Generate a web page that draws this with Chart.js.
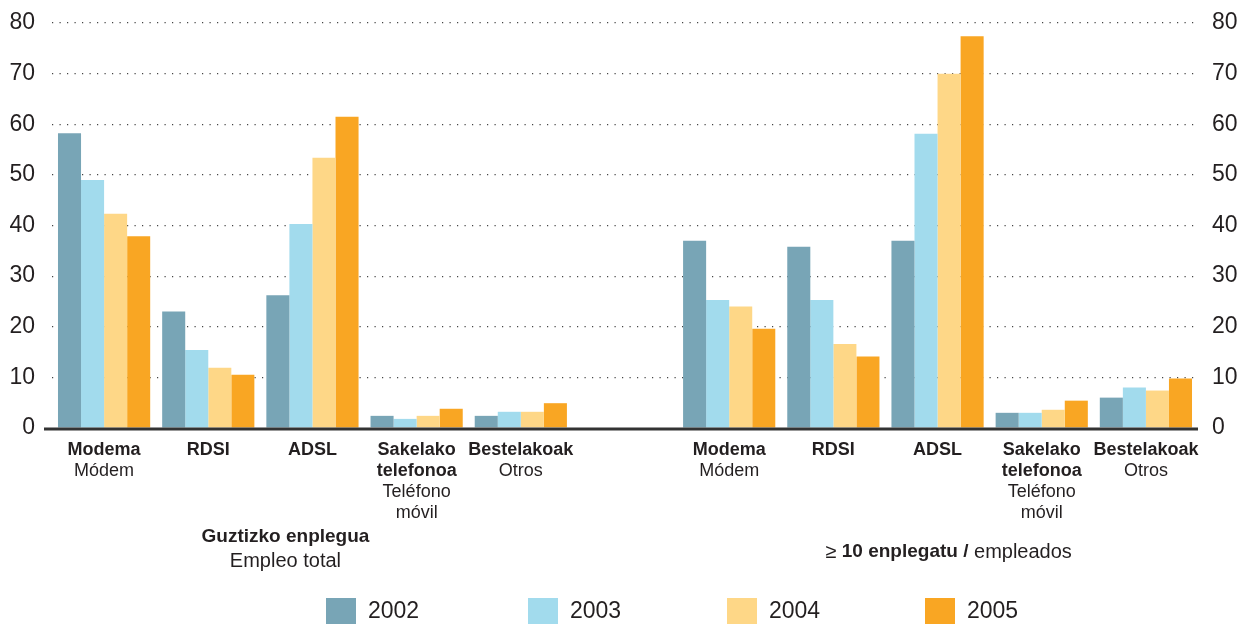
<!DOCTYPE html>
<html lang="eu">
<head>
  <meta charset="UTF-8">
  <title>Internet konexio mota</title>
  <script src="https://cdn.jsdelivr.net/npm/chart.js"></script>
  <style>
    body {
      margin: 0;
      background: #fff;
    }
    .wrap {
      width: 1256px;
      height: 624px;
      position: relative;
    }
  </style>
</head>
<body>
  <div class="wrap">
    <canvas id="chart" width="1256" height="624"></canvas>
  </div>

  <script>
    // categories: 5 for total employment, an empty slot, 5 for >= 10 employees
    const categories = ['Modema', 'RDSI', 'ADSL', 'Sakelako telefonoa', 'Bestelakoak', '',
                        'Modema', 'RDSI', 'ADSL', 'Sakelako telefonoa', 'Bestelakoak'];
    const catBold = [['Modema'], ['RDSI'], ['ADSL'], ['Sakelako', 'telefonoa'], ['Bestelakoak'], [],
                     ['Modema'], ['RDSI'], ['ADSL'], ['Sakelako', 'telefonoa'], ['Bestelakoak']];
    const catPlain = [['Módem'], [], [], ['Teléfono', 'móvil'], ['Otros'], [],
                      ['Módem'], [], [], ['Teléfono', 'móvil'], ['Otros']];

    const years = ['2002', '2003', '2004', '2005'];
    const v2002 = [58.2, 23.0, 26.2, 2.4, 2.4, null, 37.0, 35.8, 37.0, 3.0, 6.0];
    const v2003 = [49.0, 15.4, 40.3, 1.8, 3.2, null, 25.3, 25.3, 58.1, 3.0, 8.0];
    const v2004 = [42.3, 11.9, 53.4, 2.4, 3.2, null, 24.0, 16.6, 70.0, 3.6, 7.4];
    const v2005 = [37.9, 10.5, 61.5, 3.8, 4.9, null, 19.6, 14.1, 77.4, 5.4, 9.8];

    const yTicks = [0, 10, 20, 30, 40, 50, 60, 70, 80];

    const colors = ['#78a5b6', '#a2dbed', '#fed787', '#f9a623'];
    const textColor = '#231f20';
    const fam = "'Liberation Sans', Arial, sans-serif";

    // the numbers in the original use a narrow face; use it if it is there
    function hasFont(name) {
      const c = document.createElement('canvas').getContext('2d');
      c.font = '40px monospace';
      const a = c.measureText('mmmmiiiiWW').width;
      c.font = '40px "' + name + '", monospace';
      return c.measureText('mmmmiiiiWW').width !== a;
    }
    const narrow = hasFont('Liberation Sans Narrow');
    const numFam = narrow ? "'Liberation Sans Narrow', sans-serif" : fam;
    const numSize = narrow ? 26 : 23;

    // baseline, category labels, group titles and legend
    const extras = {
      id: 'extras',
      afterDraw(chart) {
        const { ctx, chartArea, scales } = chart;
        const x = scales.x;
        ctx.save();

        // zero line
        ctx.strokeStyle = '#333';
        ctx.lineWidth = 3;
        ctx.beginPath();
        ctx.moveTo(chartArea.left - 8, chartArea.bottom + 1);
        ctx.lineTo(chartArea.right, chartArea.bottom + 1);
        ctx.stroke();

        ctx.fillStyle = textColor;
        ctx.textAlign = 'center';
        ctx.textBaseline = 'middle';

        categories.forEach((c, i) => {
          const cx = x.getPixelForValue(i);
          let y = 450;
          ctx.font = 'bold 18px ' + fam;
          catBold[i].forEach(t => { ctx.fillText(t, cx, y); y += 21; });
          ctx.font = '18px ' + fam;
          catPlain[i].forEach(t => { ctx.fillText(t, cx, y); y += 21.5; });
        });

        // group titles
        const lx = x.getPixelForValue(2) - 27;
        ctx.font = 'bold 19px ' + fam;
        ctx.fillText('Guztizko enplegua', lx, 537);
        ctx.font = '20px ' + fam;
        ctx.fillText('Empleo total', lx, 561);

        const rx = x.getPixelForValue(8) + 11;
        const parts = [['≥ ', '20px '], ['10 enplegatu /', 'bold 19px '], [' empleados', '20px ']];
        let total = 0;
        parts.forEach(p => { ctx.font = p[1] + fam; total += ctx.measureText(p[0]).width; });
        let px = rx - total / 2;
        ctx.textAlign = 'left';
        parts.forEach(p => {
          ctx.font = p[1] + fam;
          ctx.fillText(p[0], px, 552);
          px += ctx.measureText(p[0]).width;
        });

        // legend
        const legendX = [326, 528, 727, 925];
        ctx.font = numSize + 'px ' + numFam;
        chart.data.datasets.forEach((ds, i) => {
          ctx.fillStyle = ds.backgroundColor;
          ctx.fillRect(legendX[i], 598, 30, 30);
          ctx.fillStyle = textColor;
          ctx.fillText(ds.label, legendX[i] + 42, 612);
        });

        ctx.restore();
      }
    };

    const yAxis = (pos, showGrid) => ({
      position: pos,
      min: 0,
      max: 80,
      afterBuildTicks: s => { s.ticks = yTicks.map(v => ({ value: v })); },
      afterFit: s => {
        s.width = pos === 'left' ? 52 : 58;
        s.paddingTop = 0;
        s.paddingBottom = 0;
      },
      grid: {
        display: showGrid,
        drawTicks: false,
        color: c => c.tick && c.tick.value === 0 ? 'rgba(0,0,0,0)' : '#444',
        lineWidth: 1.2
      },
      border: { display: false, dash: [1.2, 6.3] },
      ticks: {
        padding: pos === 'left' ? 17 : 14,
        color: textColor,
        font: { family: numFam, size: numSize }
      }
    });

    new Chart(document.getElementById('chart'), {
      type: 'bar',
      data: {
        labels: categories,
        datasets: [v2002, v2003, v2004, v2005].map((d, i) => ({
          label: years[i],
          data: d,
          backgroundColor: colors[i],
          borderWidth: 0,
          barPercentage: 1,
          categoryPercentage: 0.885,
          yAxisID: 'y'
        }))
      },
      options: {
        responsive: false,
        animation: false,
        layout: { padding: { top: 23, bottom: 0, left: 0, right: 0 } },
        plugins: {
          legend: { display: false },
          tooltip: { enabled: false }
        },
        scales: {
          x: {
            grid: { display: false },
            border: { display: false },
            ticks: { display: false },
            afterFit: s => { s.height = 196; }
          },
          y: yAxis('left', true),
          y2: yAxis('right', false)
        }
      },
      plugins: [extras]
    });
  </script>
</body>
</html>
